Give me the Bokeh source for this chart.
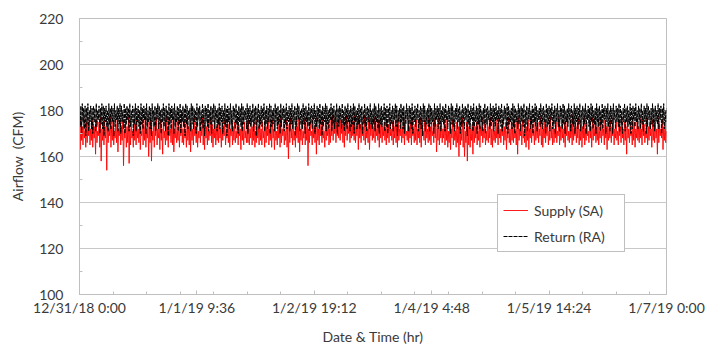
from datetime import datetime, timedelta
from bokeh.plotting import figure
from bokeh.models import Range1d, FixedTicker, Legend, LegendItem
from bokeh.embed import file_html
from bokeh.resources import INLINE

# ---- data (one sample every 12 minutes) ----
start = datetime(2018, 12, 31, 0, 0)
step_minutes = 12

supply_sa = [
    172, 163, 176, 167, 173, 165, 177, 168, 171, 164, 175, 166, 174, 169, 176, 165, 172, 167, 177, 164,
    174, 168, 173, 161, 176, 166, 171, 169, 175, 164, 177, 158, 172, 167, 174, 165, 176, 168, 173, 154,
    175, 166, 172, 169, 177, 164, 173, 167, 176, 165, 171, 168, 174, 166, 177, 162, 172, 169, 175, 165,
    173, 167, 176, 156, 171, 168, 175, 164, 173, 166, 177, 157, 172, 165, 175, 168, 171, 164, 176, 167,
    174, 165, 177, 168, 172, 166, 175, 163, 171, 169, 176, 165, 173, 167, 177, 164, 172, 168, 175, 160,
    173, 166, 176, 158, 171, 167, 175, 164, 173, 169, 177, 165, 172, 168, 174, 163, 176, 167, 172, 161,
    175, 168, 171, 165, 177, 167, 173, 164, 176, 169, 172, 166, 174, 165, 177, 162, 172, 168, 175, 166,
    171, 167, 176, 164, 173, 169, 178, 166, 172, 165, 175, 168, 171, 164, 177, 167, 173, 165, 176, 162,
    174, 167, 172, 165, 177, 169, 173, 166, 175, 164, 171, 168, 176, 166, 173, 169, 177, 165, 172, 163,
    175, 168, 173, 165, 176, 167, 171, 169, 177, 166, 174, 164, 172, 168, 176, 165, 173, 167, 175, 166,
    177, 168, 172, 164, 175, 167, 173, 169, 176, 165, 171, 168, 177, 166, 174, 164, 172, 169, 176, 165,
    173, 167, 175, 166, 171, 168, 177, 165, 174, 169, 172, 163, 176, 167, 173, 165, 175, 168, 171, 166,
    174, 166, 176, 165, 172, 168, 177, 165, 173, 167, 175, 164, 171, 166, 176, 168, 173, 165, 177, 167,
    172, 165, 175, 168, 171, 164, 176, 166, 173, 169, 177, 165, 172, 167, 174, 164, 176, 168, 172, 163,
    175, 167, 171, 165, 176, 168, 173, 164, 177, 166, 172, 169, 175, 165, 171, 167, 176, 164, 173, 159,
    174, 166, 177, 168, 172, 165, 175, 167, 171, 164, 176, 168, 173, 166, 177, 162, 172, 167, 175, 165,
    171, 168, 176, 165, 173, 167, 177, 156, 172, 166, 175, 169, 171, 165, 176, 168, 173, 166, 174, 161,
    177, 167, 172, 165, 175, 169, 173, 166, 176, 168, 171, 164, 177, 167, 173, 169, 175, 165, 172, 166,
    176, 169, 178, 167, 174, 170, 177, 166, 175, 169, 173, 168, 178, 167, 176, 170, 174, 166, 177, 164,
    175, 169, 178, 167, 173, 170, 176, 166, 174, 168, 177, 169, 175, 167, 178, 166, 173, 169, 176, 163,
    177, 168, 174, 166, 176, 169, 173, 167, 178, 165, 175, 168, 172, 166, 177, 163, 174, 169, 176, 167,
    173, 168, 177, 166, 175, 169, 172, 167, 176, 164, 174, 168, 177, 166, 173, 169, 175, 167, 172, 165,
    176, 168, 174, 166, 177, 169, 172, 167, 175, 165, 173, 168, 176, 166, 174, 164, 177, 167, 172, 169,
    175, 166, 173, 168, 177, 165, 174, 169, 171, 167, 176, 166, 173, 168, 175, 165, 177, 169, 172, 166,
    174, 167, 176, 165, 172, 168, 175, 166, 177, 164, 173, 169, 171, 167, 176, 165, 174, 168, 172, 166,
    177, 167, 173, 165, 175, 169, 171, 166, 176, 168, 174, 162, 172, 167, 177, 165, 173, 168, 175, 166,
    172, 168, 176, 165, 173, 167, 177, 164, 171, 166, 175, 163, 172, 168, 176, 165, 174, 167, 171, 164,
    175, 166, 173, 160, 176, 165, 172, 167, 177, 164, 174, 160, 171, 166, 175, 158, 173, 165, 176, 164,
    172, 167, 174, 161, 177, 166, 173, 168, 175, 165, 171, 167, 176, 164, 173, 169, 177, 166, 172, 168,
    175, 165, 171, 167, 176, 166, 173, 168, 177, 165, 172, 164, 175, 167, 171, 166, 176, 168, 173, 165,
    177, 168, 172, 166, 174, 169, 176, 165, 173, 167, 175, 163, 171, 168, 177, 166, 172, 165, 175, 167,
    173, 166, 176, 168, 171, 165, 175, 161, 177, 167, 172, 169, 174, 165, 176, 168, 171, 166, 175, 164,
    173, 167, 176, 163, 172, 168, 177, 166, 174, 169, 171, 165, 176, 167, 173, 168, 175, 166, 172, 169,
    177, 165, 174, 164, 172, 168, 176, 166, 173, 169, 175, 165, 171, 167, 177, 168, 173, 165, 176, 166,
    172, 168, 175, 166, 171, 169, 177, 165, 173, 167, 176, 168, 172, 166, 175, 164, 173, 169, 177, 167,
    171, 166, 176, 168, 174, 165, 178, 167, 172, 169, 175, 166, 173, 168, 177, 165, 172, 167, 176, 164,
    173, 168, 177, 165, 172, 167, 175, 169, 171, 166, 176, 168, 173, 164, 177, 167, 172, 169, 175, 166,
    173, 167, 176, 165, 171, 168, 177, 166, 174, 169, 172, 165, 176, 168, 173, 163, 175, 167, 172, 168,
    176, 166, 173, 169, 177, 165, 172, 168, 175, 167, 171, 165, 176, 169, 173, 166, 177, 168, 172, 165,
    175, 167, 173, 161, 176, 168, 172, 166, 174, 169, 171, 165, 177, 167, 175, 164, 172, 168, 176, 167,
    173, 166, 177, 168, 172, 165, 176, 169, 174, 166, 171, 168, 177, 165, 173, 167, 175, 169, 172, 164,
    176, 167, 173, 166, 175, 168, 172, 161, 177, 166, 174, 169, 172, 168, 176, 163, 173, 167, 175, 166,
    171,
]

return_ra = [
    181, 173, 182, 170, 183, 175, 181, 172, 182, 169, 181, 174, 183, 171, 180, 175, 182, 172, 181, 170,
    182, 175, 181, 171, 183, 173, 180, 176, 182, 170, 181, 174, 183, 172, 182, 169, 181, 175, 182, 173,
    180, 171, 183, 174, 181, 172, 182, 175, 181, 169, 183, 173, 180, 176, 182, 171, 181, 174, 183, 170,
    182, 175, 180, 172, 183, 170, 181, 174, 182, 176, 181, 171, 183, 173, 180, 175, 182, 169, 181, 174,
    183, 171, 181, 175, 182, 173, 180, 170, 183, 174, 181, 172, 182, 176, 181, 170, 183, 173, 180, 175,
    182, 172, 181, 169, 183, 175, 180, 173, 182, 171, 181, 176, 183, 172, 182, 174, 180, 170, 181, 175,
    183, 173, 181, 171, 182, 175, 180, 169, 183, 174, 181, 172, 182, 176, 181, 170, 183, 173, 180, 175,
    182, 171, 181, 174, 183, 170, 180, 175, 182, 173, 181, 169, 183, 174, 182, 172, 180, 176, 181, 171,
    183, 174, 182, 172, 181, 175, 180, 170, 183, 173, 181, 176, 182, 171, 180, 174, 183, 172, 181, 169,
    182, 175, 181, 173, 183, 171, 180, 174, 182, 170, 181, 175, 183, 172, 182, 176, 180, 171, 181, 174,
    183, 172, 181, 175, 182, 170, 180, 174, 183, 173, 181, 169, 182, 175, 181, 172, 183, 174, 180, 171,
    182, 176, 181, 172, 183, 174, 180, 170, 182, 175, 181, 173, 183, 171, 182, 174, 180, 176, 181, 172,
    183, 170, 181, 174, 182, 173, 180, 175, 183, 171, 181, 174, 182, 169, 181, 175, 183, 172, 180, 174,
    182, 173, 181, 176, 183, 171, 180, 174, 182, 172, 181, 175, 183, 170, 182, 173, 180, 174, 181, 171,
    183, 175, 181, 172, 182, 174, 180, 170, 183, 173, 181, 176, 182, 171, 181, 174, 183, 172, 180, 175,
    182, 171, 181, 174, 183, 172, 180, 175, 182, 169, 181, 173, 183, 176, 182, 171, 180, 174, 181, 172,
    183, 174, 181, 170, 182, 175, 180, 173, 183, 171, 181, 174, 182, 172, 181, 176, 183, 170, 180, 173,
    182, 175, 181, 172, 183, 174, 180, 169, 182, 173, 181, 175, 183, 171, 182, 174, 180, 172, 181, 176,
    183, 171, 181, 174, 182, 172, 180, 175, 183, 170, 181, 173, 182, 176, 181, 172, 183, 174, 180, 171,
    182, 174, 181, 172, 183, 175, 180, 171, 182, 173, 181, 174, 183, 170, 182, 175, 180, 172, 181, 174,
    183, 172, 181, 175, 182, 170, 180, 174, 183, 173, 181, 171, 182, 175, 181, 172, 183, 174, 180, 172,
    181, 174, 183, 171, 182, 175, 180, 172, 183, 170, 181, 174, 182, 173, 180, 176, 183, 171, 181, 173,
    182, 170, 181, 175, 183, 172, 180, 174, 182, 171, 181, 176, 183, 173, 182, 169, 180, 175, 181, 172,
    183, 175, 181, 172, 182, 170, 180, 174, 183, 176, 181, 171, 182, 174, 181, 172, 183, 170, 180, 175,
    182, 173, 181, 176, 183, 171, 180, 174, 182, 172, 181, 169, 183, 175, 182, 171, 180, 174, 181, 173,
    183, 171, 182, 174, 181, 175, 180, 170, 183, 173, 181, 176, 182, 172, 181, 174, 183, 171, 180, 175,
    182, 174, 181, 171, 183, 176, 180, 172, 182, 175, 181, 170, 183, 174, 182, 173, 180, 171, 181, 176,
    183, 172, 181, 175, 182, 170, 180, 173, 183, 174, 181, 172, 182, 176, 181, 169, 183, 174, 180, 172,
    182, 176, 181, 171, 183, 173, 180, 175, 182, 170, 181, 174, 183, 172, 182, 175, 180, 171, 181, 174,
    183, 170, 181, 174, 182, 176, 180, 172, 183, 173, 181, 175, 182, 171, 181, 173, 183, 176, 180, 170,
    182, 175, 181, 173, 183, 171, 180, 174, 182, 176, 181, 172, 183, 170, 182, 174, 180, 175, 181, 172,
    183, 173, 182, 170, 181, 175, 180, 172, 183, 174, 181, 171, 182, 175, 181, 173, 183, 169, 180, 174,
    182, 171, 181, 176, 183, 172, 180, 174, 182, 170, 181, 175, 183, 173, 182, 171, 180, 176, 181, 173,
    183, 174, 181, 172, 182, 175, 180, 170, 183, 173, 181, 174, 182, 171, 181, 176, 183, 172, 180, 174,
    182, 170, 181, 175, 183, 173, 180, 171, 182, 176, 181, 172, 183, 174, 182, 170, 180, 175, 181, 173,
    183, 176, 181, 171, 182, 174, 180, 173, 183, 170, 181, 175, 182, 172, 181, 174, 183, 171, 180, 176,
    182, 172, 181, 174, 183, 170, 180, 176, 182, 173, 181, 171, 183, 175, 182, 172, 180, 174, 181, 170,
    183, 175, 181, 173, 182, 171, 180, 174, 183, 172, 181, 176, 182, 170, 181, 175, 183, 173, 180, 171,
    182, 174, 181, 170, 183, 176, 180, 172, 182, 175, 181, 173, 183, 171, 182, 174, 180, 170, 181, 175,
    183, 171, 181, 175, 182, 173, 180, 174, 183, 170, 181, 172, 182, 176, 181, 173, 183, 175, 180, 172,
    182, 176, 181, 172, 183, 174, 180, 171, 182, 175, 181, 170, 183, 173, 182, 176, 180, 172, 181, 174,
    183, 173, 181, 171, 182, 175, 180, 174, 183, 172, 181, 176, 182, 170, 181, 174, 183, 172, 180, 175,
    181,
]

tick_labels = ["12/31/18 0:00", "1/1/19 9:36", "1/2/19 19:12",
               "1/4/19 4:48", "1/5/19 14:24", "1/7/19 0:00"]
tick_step_hours = 33.6      # major unit 1.4 days
minor_step_hours = 9.6      # minor unit 0.4 days
y_ticks = [100, 120, 140, 160, 180, 200, 220]
y_minor = [110, 130, 150, 170, 190, 210]

times = [start + timedelta(minutes=step_minutes * i) for i in range(len(supply_sa))]

def ms(dt):
    return (dt - datetime(1970, 1, 1)).total_seconds() * 1000.0

x_major = [ms(start + timedelta(hours=tick_step_hours * k)) for k in range(len(tick_labels))]
x_minor = [ms(start + timedelta(hours=minor_step_hours * k)) for k in range(1, 18)]
end = start + timedelta(days=7)

FONT = "Lato"
TXT = "#3a3a3a"

p = figure(width=708, height=351, output_backend="svg", toolbar_location=None,
           x_axis_type="datetime",
           x_range=Range1d(ms(start), ms(end)), y_range=Range1d(100, 220),
           min_border_left=79, min_border_right=42, min_border_top=18, min_border_bottom=57)
p.background_fill_color = "white"
p.border_fill_color = "white"
p.outline_line_color = "#bfbfbf"
p.outline_line_width = 1

r_sa = p.line(times, supply_sa, line_color="#ff0000", line_width=0.9)
r_ra = p.line(times, return_ra, line_color="#000000", line_width=1.0, line_dash="4 1")

# axes
xa = p.xaxis[0]
xa.ticker = FixedTicker(ticks=x_major, minor_ticks=x_minor)
xa.major_label_overrides = {int(round(t)): lab for t, lab in zip(x_major, tick_labels)}
xa.axis_label = "Date & Time (hr)"
ya = p.yaxis[0]
ya.ticker = FixedTicker(ticks=y_ticks, minor_ticks=y_minor)
ya.axis_label = "Airflow\u00a0 (CFM)"

for ax in (xa, ya):
    ax.axis_line_color = "#bfbfbf"
    ax.major_tick_line_color = "#bfbfbf"
    ax.minor_tick_line_color = "#bfbfbf"
    ax.major_tick_out = 0
    ax.minor_tick_out = 0
    ax.minor_tick_in = 3
    ax.major_label_text_font = FONT
    ax.major_label_text_font_size = "14px"
    ax.major_label_text_color = TXT
    ax.axis_label_text_font = FONT
    ax.axis_label_text_font_size = "14px"
    ax.axis_label_text_color = TXT
    ax.axis_label_text_font_style = "normal"
xa.major_tick_in = 4
ya.major_tick_in = 0
xa.major_label_standoff = 4
xa.axis_label_standoff = 9
ya.major_label_standoff = 16
ya.axis_label_standoff = 10

p.xgrid.grid_line_color = None
p.ygrid.ticker = FixedTicker(ticks=y_ticks)
p.ygrid.grid_line_color = "#c8c8c8"

legend = Legend(items=[LegendItem(label="Supply (SA)", renderers=[r_sa]),
                       LegendItem(label="Return (RA)", renderers=[r_ra])],
                location=(418, 42))
legend.label_text_font = FONT
legend.label_text_font_size = "14px"
legend.label_text_color = TXT
legend.padding = 5
legend.margin = 0
legend.spacing = 6
legend.glyph_width = 25
legend.glyph_height = 20
legend.label_height = 20
legend.label_width = 85
legend.label_standoff = 6
legend.border_line_color = "#7f7f7f"
legend.border_line_width = 1
legend.background_fill_alpha = 1.0
p.add_layout(legend, "center")

open("out.html", "w").write(file_html(p, INLINE))
